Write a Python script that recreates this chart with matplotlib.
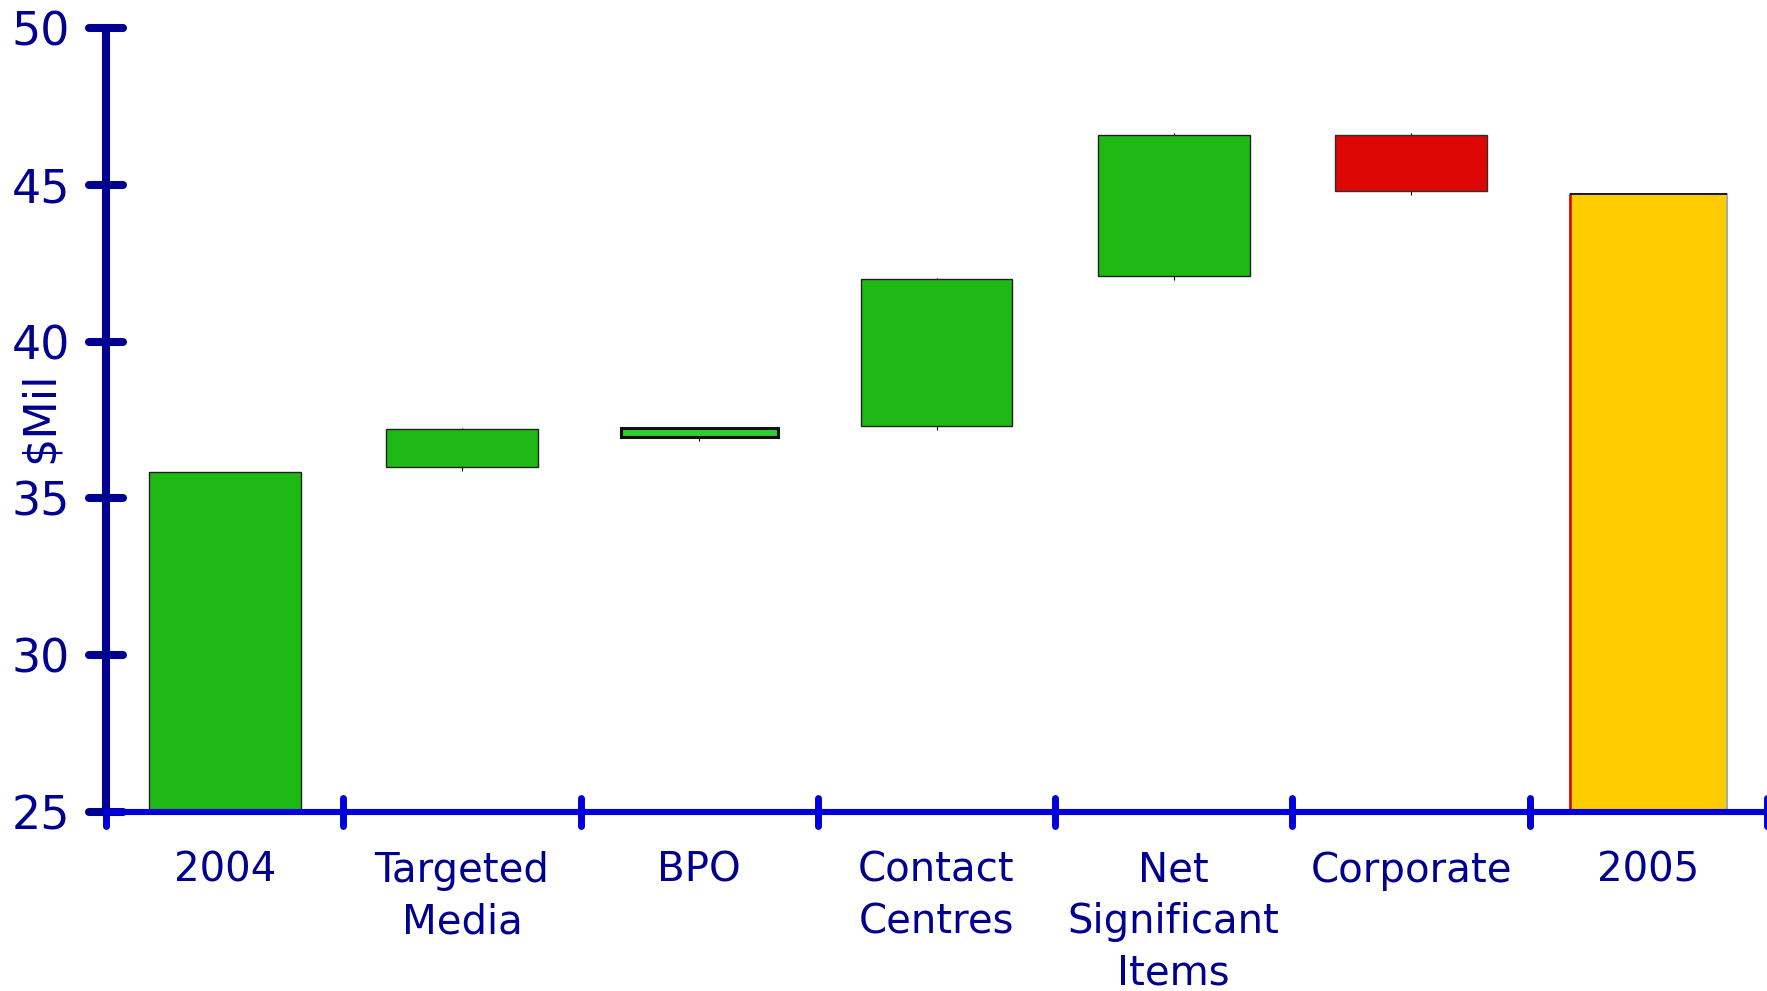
import numpy as np
import matplotlib.pyplot as plt
from matplotlib.markers import MarkerStyle

# ── data ($ millions) ────────────────────────────────────────
categories = ["2004", "Targeted\nMedia", "BPO", "Contact\nCentres",
              "Net\nSignificant\nItems", "Corporate", "2005"]
bar_bottom = [25.0, 36.0, 36.95, 37.3, 42.1, 44.8, 25.0]
bar_top    = [35.85, 37.2, 37.25, 42.0, 46.6, 46.6, 44.7]
y_ticks    = [25, 30, 35, 40, 45, 50]

# ── style ────────────────────────────────────────────────────
NAVY   = "#000090"
BLUE   = "#0000DD"
GREEN  = "#1EB914"
colours = [GREEN, GREEN, "#33CC33", GREEN, GREEN, "#DD0805", "#FFCC00"]
edges   = ["#202020", "#202020", "#111111", "#202020", "#202020", "#303030", "#A8A8A8"]
lws     = [1.0, 1.0, 2.2, 1.0, 1.0, 1.0, 1.5]
widths  = [0.64, 0.64, 0.66, 0.64, 0.64, 0.64, 0.66]

fig = plt.figure(figsize=(17.67, 9.91), dpi=100)
ax = fig.add_axes([106 / 1767, 1 - 812 / 991, 1 - 106 / 1767, 784 / 991])

x = np.arange(len(categories))
heights = np.subtract(bar_top, bar_bottom)
bars = ax.bar(x, heights, bottom=bar_bottom, width=widths, color=colours,
              edgecolor=edges, linewidth=lws, zorder=2)

# thin centre stems peeking out of the floating bars
for i in range(1, len(categories) - 1):
    ax.vlines(x[i], bar_bottom[i] - 0.12, bar_top[i] + 0.04,
              color="black", lw=0.8, zorder=1.5)

# final total bar: red left edge, dark top edge
last = bars[-1]
ax.vlines(last.get_x(), bar_bottom[-1], bar_top[-1], color="#DD0000", lw=1.8, zorder=2.2)
ax.hlines(bar_top[-1], last.get_x(), last.get_x() + last.get_width(),
          color="black", lw=1.2, zorder=2.2)

# ── axes ─────────────────────────────────────────────────────
ax.set_xlim(-0.5, len(categories) - 0.5)
ax.set_ylim(25, 50)
for side in ("top", "right"):
    ax.spines[side].set_visible(False)
ax.spines["left"].set_color(NAVY)
ax.spines["left"].set_linewidth(5.8)
ax.spines["bottom"].set_color(BLUE)
ax.spines["bottom"].set_linewidth(4.4)
ax.spines["bottom"].set_zorder(3)

ax.set_yticks(y_ticks)
ax.tick_params(axis="y", direction="inout", length=24, width=5.8, color=NAVY,
               labelsize=33, labelcolor=NAVY, pad=14)

ax.set_xticks(np.arange(-0.5, len(categories), 1.0))
ax.set_xticklabels([])
ax.tick_params(axis="x", which="major", direction="inout", length=20, width=5,
               color=BLUE)
ax.set_xticks(x, minor=True)
ax.set_xticklabels(categories, minor=True)
ax.tick_params(axis="x", which="minor", length=0, pad=28, labelsize=29,
               labelcolor=NAVY)
for lbl in ax.get_xticklabels(minor=True):
    lbl.set_linespacing(1.36)

for t in ax.yaxis.get_major_ticks():
    t.tick1line.set_marker(MarkerStyle("_", capstyle="round"))
for t in ax.xaxis.get_major_ticks():
    t.tick1line.set_marker(MarkerStyle("|", capstyle="round"))

ax.text(-0.0397, 0.504, r"\$Mil", transform=ax.transAxes, rotation=90,
        ha="center", va="center", fontsize=32, color=NAVY)

fig.savefig("out.png", dpi=100)
